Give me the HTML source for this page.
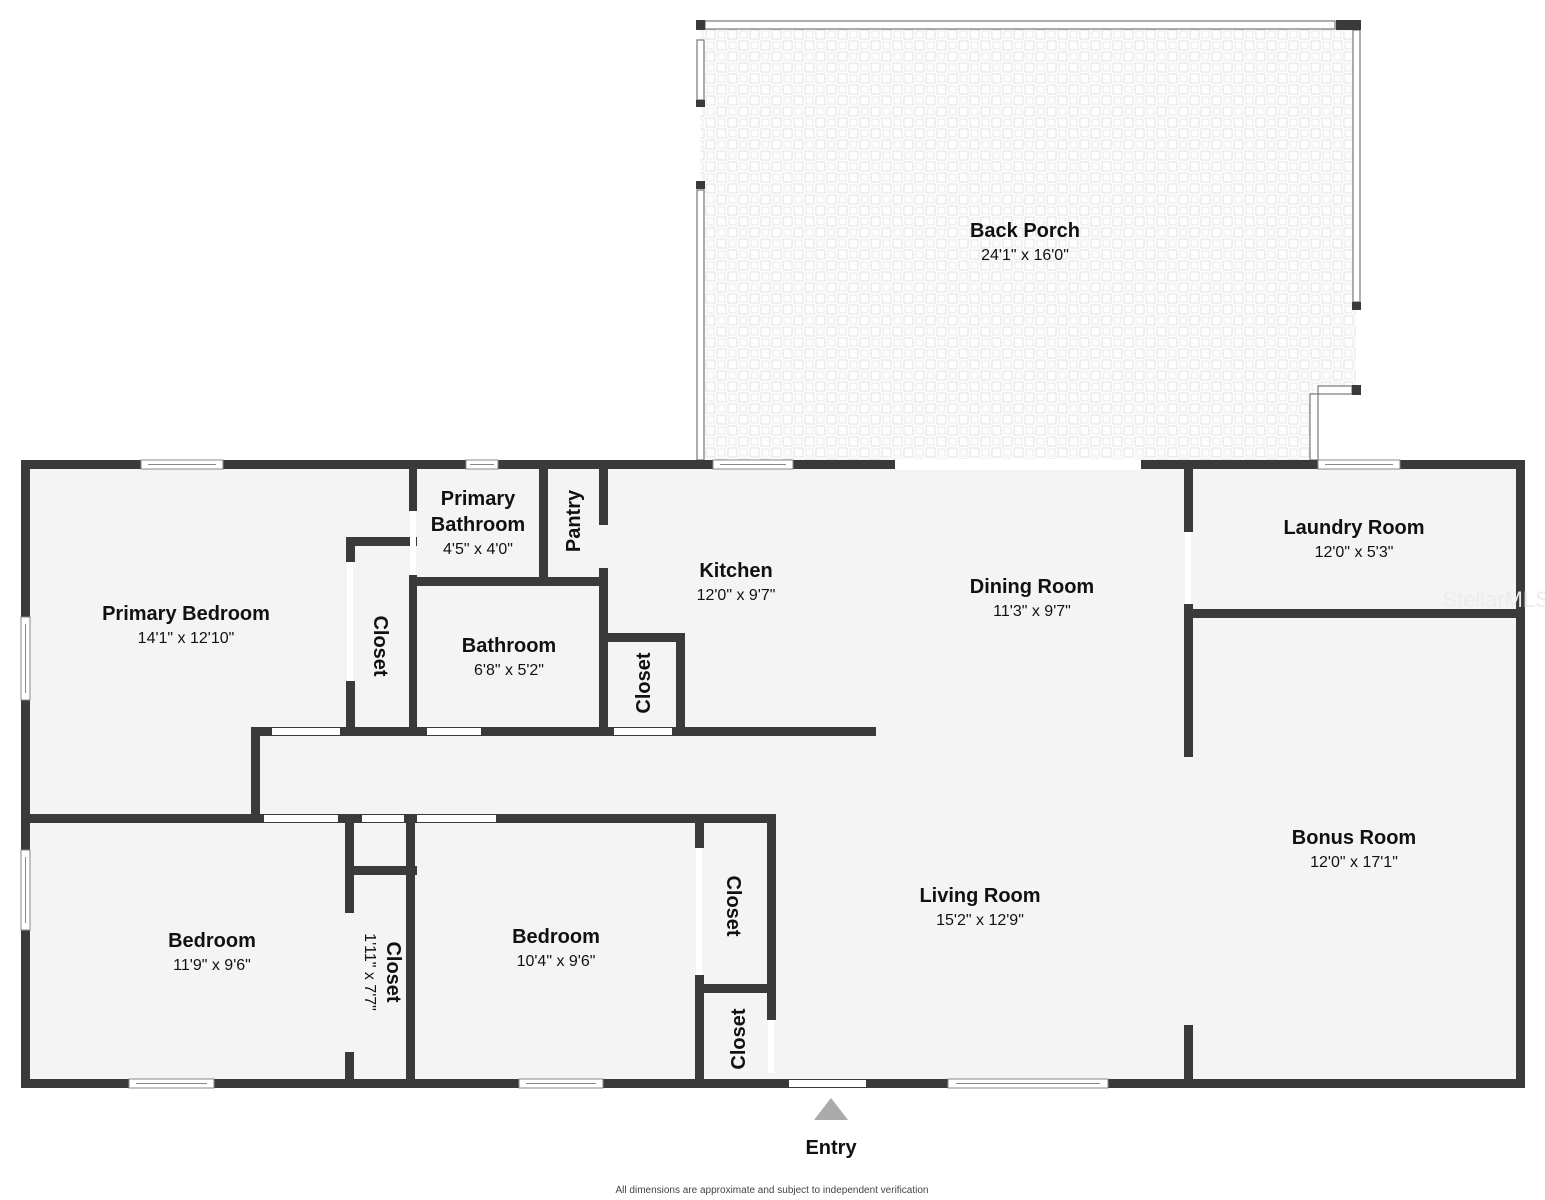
<!DOCTYPE html>
<html><head><meta charset="utf-8"><style>
html,body{margin:0;padding:0;background:#fff;}
svg{display:block;}
text{font-family:"Liberation Sans",sans-serif;fill:#111;text-anchor:middle;}
.n{font-weight:bold;font-size:20px;}
.d{font-size:16px;}
</style></head><body>
<svg width="1545" height="1200" viewBox="0 0 1545 1200" xmlns="http://www.w3.org/2000/svg">
<defs>
<pattern id="tile" x="705" y="29" width="22" height="22" patternUnits="userSpaceOnUse">
<rect width="22" height="22" fill="#fdfdfd"/>
<rect x="1" y="1" width="9" height="9" fill="none" stroke="#e2e2e2" stroke-width="1"/>
<rect x="12" y="12" width="9" height="9" fill="none" stroke="#e2e2e2" stroke-width="1"/>
<rect x="13" y="2" width="7" height="7" fill="none" stroke="#ececec" stroke-width="1"/>
<rect x="2" y="13" width="7" height="7" fill="none" stroke="#ececec" stroke-width="1"/>
</pattern>
</defs>
<!-- porch -->
<rect x="700" y="25" width="656" height="440" fill="url(#tile)"/>
<rect x="1314" y="390" width="50" height="75" fill="#fff"/>
<g fill="#fff" stroke="#777" stroke-width="1.2">
<rect x="705" y="21" width="630" height="8"/>
<rect x="697" y="40" width="7" height="60"/>
<rect x="697" y="190" width="7" height="270"/>
<rect x="1353" y="30" width="7" height="272"/>
<rect x="1318" y="386" width="34" height="8"/>
<rect x="1310" y="394" width="8" height="66"/>
</g>
<g fill="#3a3a3a">
<rect x="696" y="20" width="9" height="10"/>
<rect x="1336" y="20" width="25" height="10"/>
<rect x="696" y="100" width="9" height="7"/>
<rect x="696" y="181" width="9" height="8"/>
<rect x="1352" y="302" width="9" height="8"/>
<rect x="1352" y="385" width="9" height="10"/>
</g>
<!-- house floor -->
<rect x="21" y="460" width="1504" height="628" fill="#f4f4f4"/>
<!-- walls -->
<g fill="#3a3a3a">
<rect x="21" y="460" width="1504" height="9"/>
<rect x="21" y="1079" width="1504" height="9"/>
<rect x="21" y="460" width="9" height="628"/>
<rect x="1516" y="460" width="9" height="628"/>
<rect x="409" y="469" width="8" height="42"/>
<rect x="409" y="575" width="8" height="160"/>
<rect x="346" y="537" width="71" height="9"/>
<rect x="346" y="537" width="9" height="25"/>
<rect x="346" y="681" width="9" height="54"/>
<rect x="539" y="469" width="9" height="117"/>
<rect x="409" y="577" width="199" height="9"/>
<rect x="599" y="469" width="9" height="56"/>
<rect x="599" y="568" width="9" height="167"/>
<rect x="599" y="633" width="86" height="9"/>
<rect x="676" y="633" width="9" height="102"/>
<rect x="251" y="727" width="625" height="9"/>
<rect x="251" y="727" width="9" height="96"/>
<rect x="21" y="814" width="755" height="9"/>
<rect x="345" y="814" width="9" height="99"/>
<rect x="345" y="1052" width="9" height="30"/>
<rect x="345" y="866" width="72" height="9"/>
<rect x="406" y="814" width="9" height="268"/>
<rect x="695" y="814" width="9" height="34"/>
<rect x="695" y="975" width="9" height="107"/>
<rect x="767" y="814" width="9" height="206"/>
<rect x="695" y="984" width="81" height="9"/>
<rect x="1184" y="469" width="9" height="63"/>
<rect x="1184" y="604" width="9" height="153"/>
<rect x="1184" y="1025" width="9" height="57"/>
<rect x="1184" y="609" width="341" height="9"/>
</g>
<!-- door openings -->
<g fill="#fff">
<rect x="895" y="459" width="246" height="11"/>
<rect x="410" y="511" width="6" height="64"/>
<rect x="347" y="562" width="6" height="119"/>
<rect x="272" y="728" width="68" height="7"/>
<rect x="427" y="728" width="54" height="7"/>
<rect x="614" y="728" width="58" height="7"/>
<rect x="264" y="815" width="74" height="7"/>
<rect x="362" y="815" width="42" height="7"/>
<rect x="417" y="815" width="79" height="7"/>
<rect x="696" y="848" width="6" height="127"/>
<rect x="768" y="1020" width="6" height="53"/>
<rect x="1185" y="532" width="6" height="72"/>
<rect x="789" y="1080" width="77" height="7"/>
</g>
<!-- windows -->
<g fill="#fff" stroke="#888" stroke-width="1">
<rect x="141" y="460" width="82" height="9"/><line x1="148" y1="464.5" x2="216" y2="464.5"/>
<rect x="466" y="460" width="32" height="9"/><line x1="470" y1="464.5" x2="494" y2="464.5"/>
<rect x="713" y="460" width="80" height="9"/><line x1="720" y1="464.5" x2="786" y2="464.5"/>
<rect x="1318" y="460" width="82" height="9"/><line x1="1325" y1="464.5" x2="1393" y2="464.5"/>
<rect x="21" y="617" width="9" height="83"/><line x1="25.5" y1="624" x2="25.5" y2="693"/>
<rect x="21" y="850" width="9" height="80"/><line x1="25.5" y1="857" x2="25.5" y2="923"/>
<rect x="129" y="1079" width="85" height="9"/><line x1="136" y1="1083.5" x2="207" y2="1083.5"/>
<rect x="519" y="1079" width="84" height="9"/><line x1="526" y1="1083.5" x2="596" y2="1083.5"/>
<rect x="948" y="1079" width="160" height="9"/><line x1="956" y1="1083.5" x2="1100" y2="1083.5"/>
</g>
<!-- labels -->
<text class="n" x="1025" y="237">Back Porch</text><text class="d" x="1025" y="260">24'1" x 16'0"</text>
<text class="n" x="186" y="620">Primary Bedroom</text><text class="d" x="186" y="643">14'1" x 12'10"</text>
<text class="n" x="478" y="505">Primary</text><text class="n" x="478" y="531">Bathroom</text><text class="d" x="478" y="554">4'5" x 4'0"</text>
<text class="n" x="509" y="652">Bathroom</text><text class="d" x="509" y="675">6'8" x 5'2"</text>
<text class="n" x="736" y="577">Kitchen</text><text class="d" x="736" y="600">12'0" x 9'7"</text>
<text class="n" x="1032" y="593">Dining Room</text><text class="d" x="1032" y="616">11'3" x 9'7"</text>
<text class="n" x="1354" y="534">Laundry Room</text><text class="d" x="1354" y="557">12'0" x 5'3"</text>
<text class="n" x="1354" y="844">Bonus Room</text><text class="d" x="1354" y="867">12'0" x 17'1"</text>
<text class="n" x="980" y="902">Living Room</text><text class="d" x="980" y="925">15'2" x 12'9"</text>
<text class="n" x="212" y="947">Bedroom</text><text class="d" x="212" y="970">11'9" x 9'6"</text>
<text class="n" x="556" y="943">Bedroom</text><text class="d" x="556" y="966">10'4" x 9'6"</text>
<text class="n" transform="translate(580,521) rotate(-90)">Pantry</text>
<text class="n" transform="translate(374,646) rotate(90)">Closet</text>
<text class="n" transform="translate(650,683) rotate(-90)">Closet</text>
<text class="n" transform="translate(727,906) rotate(90)">Closet</text>
<text class="n" transform="translate(745,1039) rotate(-90)">Closet</text>
<text class="n" transform="translate(387,972) rotate(90)">Closet</text>
<text class="d" transform="translate(365,972) rotate(90)">1'11" x 7'7"</text>
<polygon points="831,1098 848,1120 814,1120" fill="#aaa"/>
<text class="n" x="831" y="1154">Entry</text>
<text x="772" y="1193" style="font-size:10px;fill:#444">All dimensions are approximate and subject to independent verification</text>
<text x="1496" y="607" style="font-size:22px;fill:#ececec">StellarMLS</text>
</svg>
</body></html>
